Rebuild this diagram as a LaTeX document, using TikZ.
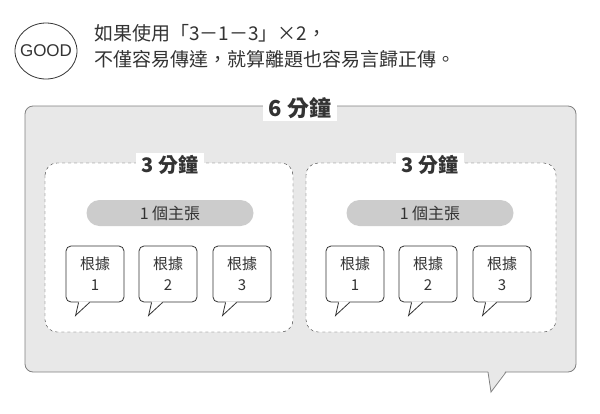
\documentclass[tikz,border=0pt]{standalone}
\usepackage{fontspec}
\setmainfont{Liberation Sans}
\newfontfamily\cjk{Noto Sans CJK TC}
\usetikzlibrary{positioning,shapes.geometric}
\definecolor{panel}{HTML}{E8E8E8}
\definecolor{pill}{HTML}{CCCCCC}
\definecolor{ink}{HTML}{333333}
\tikzset{
  minutes/.style={fill=white, text=ink, font=\cjk\bfseries\fontsize{20}{20}\selectfont, inner xsep=6pt, inner ysep=2pt},
  claim/.style={fill=pill, rounded corners=13pt, minimum width=167pt, minimum height=26pt, font=\cjk\fontsize{16}{16}\selectfont, text=ink},
  reason/.style={draw=ink, fill=white, thick, rounded corners=5pt, minimum width=58pt, minimum height=56pt, align=center, font=\cjk\fontsize{15}{21}\selectfont, text=ink},
}
\newcommand{\reasonbubble}[4]{%
  \node[reason] (#1) at (#2,#3) {根據\\#4};
  \fill[white] ([xshift=13pt,yshift=1pt]#1.south west) -- ++(-3,14) -- ([xshift=24pt,yshift=1pt]#1.south west) -- cycle;
  \draw[ink, thick] ([xshift=13pt]#1.south west) -- ++(-3,13) -- ([xshift=24pt]#1.south west);
}
\begin{document}
\begin{tikzpicture}[x=1pt,y=-1pt]
\useasboundingbox (0,0) rectangle (600,413);
%Header:
\node[inner sep=0pt, font=\fontsize{17}{17}\selectfont, text=ink] (good) at (46,51) {GOOD};
\draw[ink, thick] (good.center) ellipse [x radius=31, y radius=28];
\node[anchor=west, font=\cjk\fontsize{19}{19}\selectfont, text=ink, inner sep=0pt] (line1) at (94,33) {如果使用「3－1－3」×2，};
\node[anchor=west, font=\cjk\fontsize{19}{19}\selectfont, text=ink, inner sep=0pt] (line2) at (94,59) {不僅容易傳達，就算離題也容易言歸正傳。};
%Panel:
\draw[gray, fill=panel, thick, rounded corners=8pt] (25,106) rectangle (576,372);
\fill[panel] (488,370) -- (491,392) -- (506,370) -- cycle;
\draw[gray, thick] (488,372) -- (491,392) -- (506,372);
\node[minutes, font=\cjk\bfseries\fontsize{22}{22}\selectfont] (six) at (300,108) {6 分鐘};
%Halves:
\draw[ink, dashed, fill=white, rounded corners=12pt] (45,163) rectangle (293,332);
\draw[ink, dashed, fill=white, rounded corners=12pt] (306,163) rectangle (556,332);
\node[minutes] (left) at (170,165) {3 分鐘};
\node[minutes] (right) at (430,165) {3 分鐘};
\node[claim] (claimL) at (170,213) {1 個主張};
\node[claim] (claimR) at (430,213) {1 個主張};
\reasonbubble{rL1}{95}{274}{1}
\reasonbubble{rL2}{168}{274}{2}
\reasonbubble{rL3}{242}{274}{3}
\reasonbubble{rR1}{355}{274}{1}
\reasonbubble{rR2}{428}{274}{2}
\reasonbubble{rR3}{502}{274}{3}
\end{tikzpicture}
\end{document}
